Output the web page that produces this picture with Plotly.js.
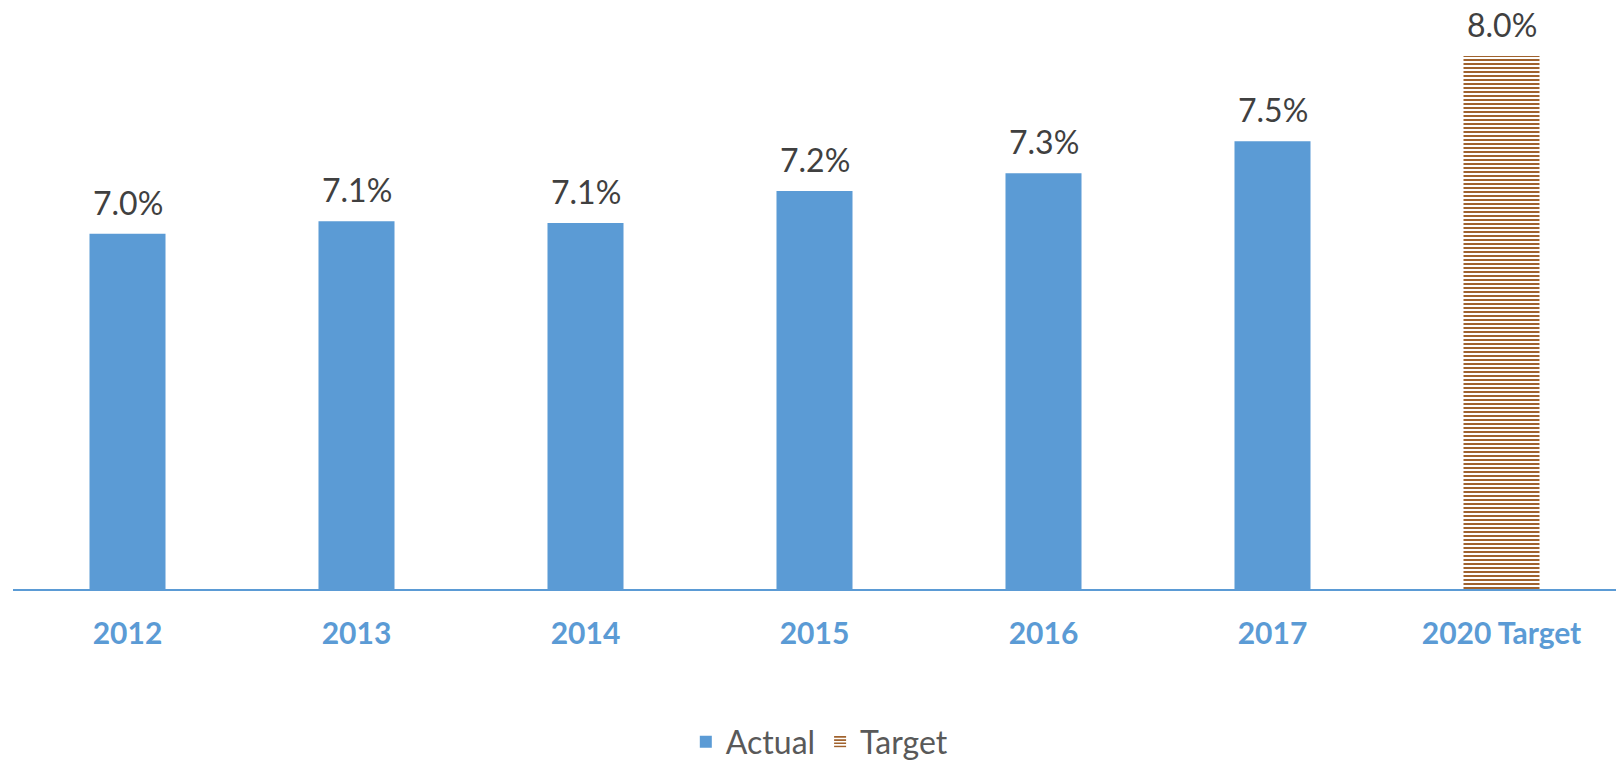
<!DOCTYPE html>
<html>
<head>
<meta charset="utf-8">
<script src="https://cdn.plot.ly/plotly-3.0.1.min.js"></script>
<style>html,body{margin:0;padding:0;background:#fff;}#chart{width:1616px;height:768px;}</style>
</head>
<body>
<div id="chart"></div>
<script>
const actualYears = ["2012", "2013", "2014", "2015", "2016", "2017"];
const actualValues = [7.0, 7.07, 7.06, 7.24, 7.34, 7.52];
const targetCategory = ["2020 Target"];
const targetValues = [8.0];
const categoryOrder = ["2012", "2013", "2014", "2015", "2016", "2017", "2020 Target"];

const labelFont = {family: "Lato, 'Open Sans', sans-serif", size: 32, color: "#404040"};

const traces = [
  {
    type: "bar", name: "Actual", x: actualYears, y: actualValues,
    marker: {color: "#5B9BD5"},
    textposition: "none", hoverinfo: "skip"
  },
  {
    type: "bar", name: "Target", x: targetCategory, y: targetValues,
    marker: {color: "#ffffff", pattern: {shape: "-", fgcolor: "#A0622D", bgcolor: "#ffffff", size: 4, solidity: 0.5}},
    textposition: "none", hoverinfo: "skip"
  }
];

const allX = actualYears.concat(targetCategory);
const allY = actualValues.concat(targetValues);
const annotations = allX.map((c, i) => ({
  x: categoryOrder.indexOf(c), y: allY[i], xref: "x", yref: "y",
  text: allY[i].toFixed(1) + "%",
  showarrow: false, yanchor: "bottom", xanchor: "center",
  yshift: 10, font: labelFont
}));

const layout = {
  width: 1616, height: 768,
  margin: {l: 13, r: 0, t: 10, b: 179},
  paper_bgcolor: "#ffffff", plot_bgcolor: "#ffffff",
  barmode: "overlay", bargap: 0.668,
  showlegend: true,
  legend: {
    orientation: "h", xref: "container", yref: "container",
    x: 0.507, xanchor: "center", y: 0.034, yanchor: "middle",
    font: {family: "Lato, 'Open Sans', sans-serif", size: 32, color: "#595959"},
    itemwidth: 30
  },
  annotations: annotations,
  xaxis: {
    type: "category", categoryorder: "array", categoryarray: categoryOrder,
    range: [-0.5, 6.5], autorange: false,
    showline: true, linecolor: "#5B9BD5", linewidth: 2,
    showgrid: false, zeroline: false, ticks: "",
    ticklabelstandoff: 17,
    tickfont: {family: "Lato, 'Open Sans', sans-serif", size: 30, color: "#5B9BD5", weight: "bold"}
  },
  yaxis: {
    range: [5, 8.259], autorange: false, visible: false, showgrid: false, zeroline: false, fixedrange: true
  },
  font: {family: "Lato, 'Open Sans', sans-serif"}
};

Plotly.newPlot("chart", traces, layout, {staticPlot: true, displayModeBar: false});
</script>
</body>
</html>
